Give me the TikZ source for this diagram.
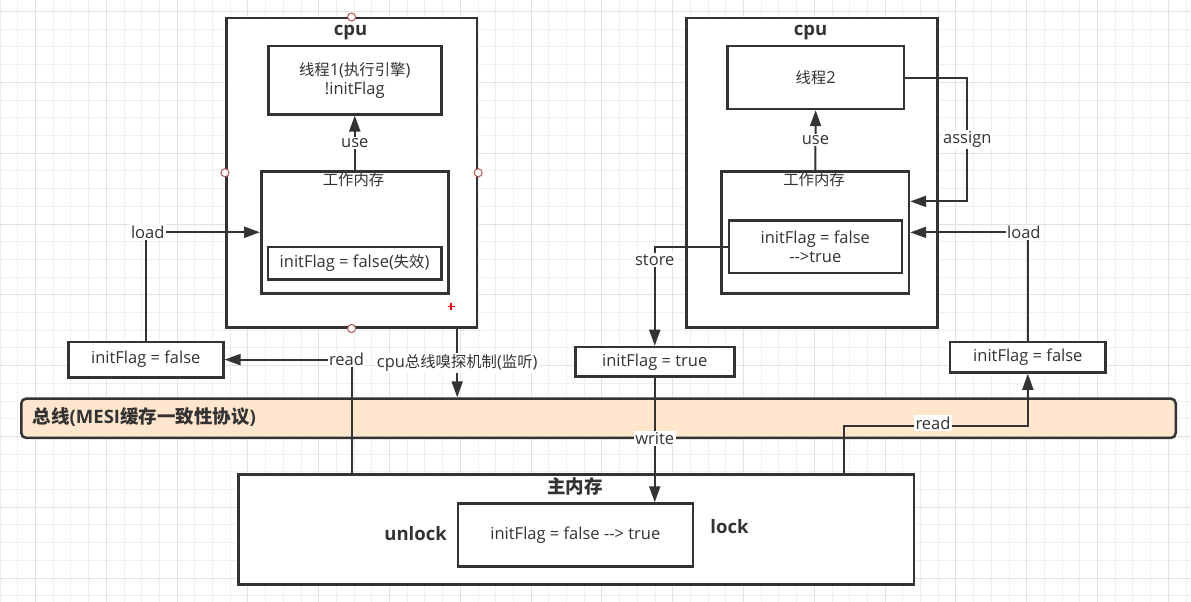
\documentclass[tikz,border=0pt]{standalone}
\usepackage{fontspec}
\setmainfont{Open Sans}
\newfontfamily\cjkfont{Noto Sans CJK SC}[Scale=0.93]
\newfontfamily\cjkbold{Noto Sans CJK SC}
\newcommand{\zhtext}[1]{{\cjkfont #1}}
\newcommand{\zhbold}[1]{{\cjkbold\bfseries #1}}
\usetikzlibrary{arrows.meta,calc}
\definecolor{ink}{HTML}{333333}
\definecolor{busfill}{HTML}{FFE6CC}
\definecolor{gridminor}{HTML}{EFEFEF}
\definecolor{gridmajor}{HTML}{E2E2E2}
\definecolor{handlered}{HTML}{B85450}
\tikzset{
  box/.style={draw=ink, line width=2.5pt, fill=white, rectangle, inner sep=0pt,
    anchor=north west, text=ink, align=center,
    font=\fontsize{16.5}{19}\selectfont},
  txt/.style={text=ink, inner sep=0pt, font=\fontsize{16.5}{19}\selectfont},
  title/.style={text=ink, inner sep=0pt, font=\fontsize{18.5}{22}\selectfont\bfseries},
  lbl/.style={fill=white, text=ink, inner sep=1.5pt, font=\fontsize{16.5}{19}\selectfont},
  arr/.style={draw=ink, line width=2pt, -{Triangle[length=16pt,width=11pt]}},
  handle/.style={circle, draw=handlered, fill=white, line width=1pt,
    minimum size=8pt, inner sep=0pt},
}
\begin{document}
\begin{tikzpicture}[x=1pt, y=-1pt]
\useasboundingbox (0,0) rectangle (1191,602);
\fill[white] (0,0) rectangle (1191,602);
% background grid
\foreach \i in {0,...,67} \draw[gridminor, line width=0.8pt] (\i*17.7,0) -- (\i*17.7,602);
\foreach \j in {0,...,33} \draw[gridminor, line width=0.8pt] (0,11.5+\j*17.7) -- (1191,11.5+\j*17.7);
\foreach \i in {2,6,...,66} \draw[gridmajor, line width=0.8pt] (\i*17.7,0) -- (\i*17.7,602);
\foreach \j in {0,4,...,32} \draw[gridmajor, line width=0.8pt] (0,11.5+\j*17.7) -- (1191,11.5+\j*17.7);

% left cpu
\node[box, minimum width=250.7pt, minimum height=309pt] (cpu1) at (225,17) {};
\node[title] (cpu1t) at (350.5,33) {cpu};
\node[box, minimum width=173pt, minimum height=68pt] (th1) at (267,45)
  {\zhtext{线程}1(\zhtext{执行引擎})\\!initFlag};
\node[box, minimum width=187pt, minimum height=122pt] (wm1) at (260,170) {};
\node[txt] (wm1t) at (353.5,180) {\zhtext{工作内存}};
\node[box, minimum width=173.3pt, minimum height=32.6pt] (in1) at (266.7,245.7)
  {initFlag = false(\zhtext{失效})};
\node[box, minimum width=155pt, minimum height=35.3pt] (lfalse) at (67,340.7) {initFlag = false};

% right cpu
\node[box, minimum width=251pt, minimum height=309pt] (cpu2) at (685,17) {};
\node[title] (cpu2t) at (810.5,33) {cpu};
\node[box, minimum width=176.8pt, minimum height=62.7pt] (th2) at (726,45) {\zhtext{线程}2};
\node[box, minimum width=187.4pt, minimum height=122.3pt] (wm2) at (720.3,170) {};
\node[txt] (wm2t) at (814,180) {\zhtext{工作内存}};
\node[box, minimum width=172.9pt, minimum height=52.7pt] (in2) at (727.6,219)
  {initFlag = false\\-{}->true};
\node[box, minimum width=159pt, minimum height=29.6pt] (ltrue) at (574,345.7) {initFlag = true};
\node[box, minimum width=155.6pt, minimum height=30.6pt] (rfalse) at (948.8,340.7) {initFlag = false};

% bus
\node[box, fill=busfill, rounded corners=5pt, minimum width=1154.5pt, minimum height=39.4pt]
  (bus) at (20,397.3) {};
\node[title, anchor=west] (bust) at (32.5,417.5) {\zhbold{总线}(MESI\zhbold{缓存一致性协议})};

% main memory
\node[box, minimum width=675.7pt, minimum height=110pt] (mem) at (237,473.3) {};
\node[title] (memt) at (575,486.7) {\zhbold{主内存}};
\node[box, minimum width=235.2pt, minimum height=62.7pt] (in3) at (456.5,502.3)
  {initFlag = false -{}-> true};
\node[title] (unlock) at (415.6,533.5) {unlock};
\node[title] (lock) at (729.5,526.5) {lock};

% connectors, left side
\draw[arr] (wm1.north) -- (th1.south) node[lbl, midway] {use};
\draw[arr] (lfalse.north) |- (wm1.west) node[lbl, pos=0.5, xshift=2pt] {load};
\draw[arr] (cpu1.south |- mem.north) |- (lfalse.east) node[lbl, pos=0.52] {read};
\draw[arr] ($(cpu1.south east)+(-21,0)$) -- ($(cpu1.south east |- bus.north)+(-21,0)$)
  node[lbl, midway] {cpu\zhtext{总线嗅探机制}(\zhtext{监听})};

% connectors, right side
\draw[arr] (wm2.north) -- (th2.south) node[lbl, midway] {use};
\draw[arr] (th2.east) -- ++(62,0) |- ($(wm2.east)+(0,-31)$) node[lbl, pos=0.25] {assign};
\draw[arr] (rfalse.north) |- (wm2.east) node[lbl, pos=0.5, xshift=-4pt] {load};
\draw[arr] (in2.west) -| (ltrue.north) node[lbl, pos=0.57] {store};
\draw[arr] (ltrue.south) -- (ltrue.south |- in3.north) node[lbl, pos=0.49] {write};
\draw[arr] ($(mem.north east)+(-71.5,0)$) |- ($(rfalse.south)+(0,52)$) -- (rfalse.south);
\node[lbl] (readr) at (933,423) {read};

% selection handles
\node[handle] (h1) at (cpu1.north) {};
\node[handle] (h2) at (cpu1.south) {};
\node[handle] (h3) at (cpu1.west) {};
\node[handle] (h4) at (cpu1.east) {};
\draw[red, line width=1.4pt] (447.5,306.7) -- (454.5,306.7) (451,303.2) -- (451,310.2);
\end{tikzpicture}
\end{document}
